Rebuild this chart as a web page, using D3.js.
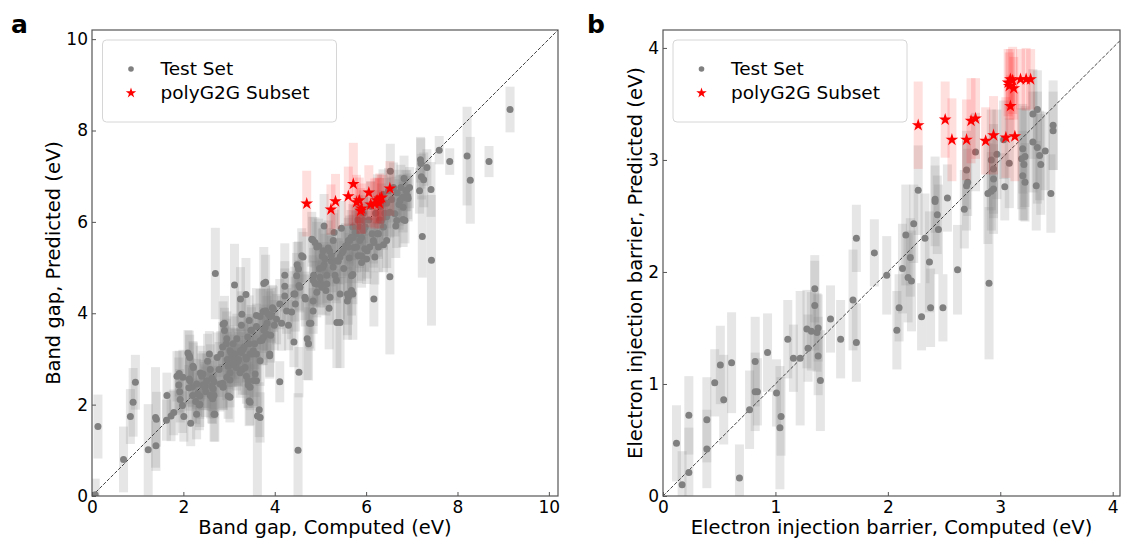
<!DOCTYPE html>
<html>
<head>
<meta charset="utf-8" />
<title>Parity plots: band gap and electron injection barrier</title>
<style>
  body { margin: 0; background: #fff; }
  svg text { font-family: "DejaVu Sans", sans-serif; fill: #000; }
  .tick text { font-size: 17px; }
  .axis-label { font-size: 19.5px; }
  .legend-text { font-size: 18.5px; }
  .panel-letter { font-size: 25px; font-weight: bold; }
</style>
</head>
<body>
<div id="chart"></div>
<script src="https://d3js.org/d3.v7.min.js"></script>
<script>
// each entry: [computed, predicted, uncertainty] in eV
const bandGapTest = [
  [0.07,0.03,0.35],[0.13,1.52,0.7],[0.69,0.80,0.72],[0.84,1.74,0.6],[0.90,2.05,0.75],[0.95,2.49,0.6],
  [1.23,1.01,1.0],[1.40,1.10,0.55],[1.39,1.72,1.1],[1.41,1.68,0.6],[1.64,2.20,0.5],[1.63,1.66,0.45],
  [1.73,1.75,0.55],[1.79,1.83,0.5],[1.86,2.62,0.55],[1.91,2.68,0.5],[1.90,2.43,0.6],[1.92,2.28,0.5],
  [1.98,1.98,0.6],[2.01,1.74,0.55],[1.93,2.11,0.5],
  [2.10,3.13,0.5],[2.13,3.07,0.55],[2.13,2.56,0.6],[2.16,1.59,0.5],[2.12,2.37,0.5],[2.21,2.84,0.55],
  [2.20,2.20,0.6],[2.27,2.07,0.5],[2.35,1.99,0.55],[2.31,2.24,0.5],[2.20,2.39,0.45],[2.37,2.69,0.6],
  [2.40,2.62,0.5],[2.43,2.43,0.55],[2.53,2.95,0.6],[2.57,3.11,0.5],[2.59,2.77,0.55],[2.63,2.58,0.5],
  [2.67,2.50,0.6],[2.65,2.35,0.5],[2.47,2.43,0.5],[2.49,2.28,0.55],[2.67,1.79,0.6],[2.70,4.87,1.0],
  [2.59,2.20,0.5],[2.64,2.13,0.55],[2.67,2.20,0.5],[2.74,3.03,0.55],[2.78,2.77,0.6],[2.82,3.11,0.5],
  [2.86,3.26,0.55],[2.90,3.78,0.6],[2.90,3.62,0.5],[2.94,3.33,0.55],[2.96,2.99,0.6],[2.98,2.84,0.5],
  [2.98,2.19,0.5],[2.86,2.47,0.55],[2.87,2.39,0.5],[3.02,2.54,0.6],[3.04,3.14,0.55],[3.06,2.88,0.5],
  [3.09,3.33,0.6],[3.13,3.11,0.55],[3.12,4.62,0.9],[3.17,3.44,0.55],[3.17,2.92,0.5],[3.21,2.99,0.6],
  [3.25,4.31,0.7],[3.25,3.18,0.5],[3.27,3.74,0.6],[3.29,2.77,0.55],[3.33,3.26,0.5],[3.37,4.41,0.8],
  [3.37,3.03,0.55],[3.38,2.62,0.6],[3.42,2.43,0.5],[3.44,2.08,0.55],[3.41,3.48,0.5],[3.44,3.33,0.6],
  [3.48,3.63,0.55],[3.52,3.11,0.5],[3.54,2.53,0.6],[3.56,3.33,0.55],[3.60,3.71,0.5],[3.62,1.75,1.8],
  [3.66,1.89,0.6],[3.68,3.93,0.6],[3.72,3.41,0.55],[3.76,4.65,0.8],[3.80,4.68,0.6],[3.76,3.63,0.5],
  [3.80,4.05,0.55],[3.83,3.78,0.6],[3.89,3.11,0.5],[3.90,3.93,0.55],[3.91,3.52,0.6],[3.95,4.12,0.5],
  [3.99,3.74,0.55],
  [3.28,3.98,0.5],[3.44,3.84,0.55],[3.49,3.63,0.5],[3.60,3.95,0.6],[3.75,4.04,0.5],[3.86,3.98,0.55],
  [3.79,3.69,0.5],[3.93,3.95,0.6],[3.97,4.09,0.5],[4.04,3.87,0.55],[2.87,3.76,0.5],[2.95,3.44,0.6],
  [3.02,3.18,0.55],[3.06,3.03,0.5],[3.13,3.07,0.6],[3.09,2.89,0.5],[3.20,2.96,0.55],[3.27,3.14,0.5],
  [3.31,3.22,0.6],[3.16,2.81,0.5],[3.24,2.70,0.55],[3.35,2.81,0.6],[3.38,3.00,0.5],[3.46,3.11,0.55],
  [3.53,3.18,0.5],[3.60,3.11,0.6],[3.68,2.96,0.55],[3.57,2.67,0.5],[3.42,2.52,0.6],[3.46,2.38,0.5],
  [3.60,2.52,0.55],[3.68,3.40,0.5],[3.75,3.47,0.6],[3.82,3.54,0.55],[3.89,3.07,0.5],[3.02,2.70,0.55],
  [2.95,2.60,0.5],[2.80,2.45,0.6],[2.87,2.38,0.5],[3.02,2.16,0.55],[2.69,1.79,0.6],[3.46,2.05,0.5],
  [3.68,1.72,0.55],
  [2.14,3.03,0.5],[2.22,2.81,0.55],[1.99,2.60,0.6],[2.14,2.52,0.5],[2.29,2.45,0.55],[2.43,2.67,0.5],
  [2.51,2.52,0.6],[2.47,2.38,0.5],[2.62,2.41,0.55],[2.36,2.19,0.5],[2.62,2.19,0.6],[2.36,2.01,0.5],
  [2.29,1.79,0.55],
  [4.11,4.20,0.55],[4.11,2.50,0.45],[4.15,3.78,0.6],[4.22,4.83,0.7],[4.22,4.59,0.55],[4.22,4.38,0.6],
  [4.26,4.05,0.5],[4.30,3.74,0.55],[4.37,4.03,0.6],[4.42,4.42,0.5],[4.42,3.37,0.55],[4.45,4.20,0.6],
  [4.53,2.71,0.55],[4.51,1.00,1.25],[4.59,5.26,0.6],[4.53,4.61,0.55],[4.49,5.06,0.5],[4.67,4.31,0.6],
  [4.71,3.44,0.9],[4.74,3.33,0.8],[4.76,3.78,0.55],[4.79,3.78,0.6],[4.84,4.05,0.5],[4.81,5.62,0.6],
  [4.88,5.55,0.55],[4.85,4.83,0.6],[4.88,4.65,0.5],[4.92,4.46,0.55],[4.96,5.47,0.6],[4.98,4.98,0.5],
  [5.00,4.67,0.55],[5.04,5.25,0.6],[5.08,5.91,0.7],[5.08,5.06,0.5],[5.12,4.50,0.55],[5.14,4.83,0.6],
  [5.19,4.11,0.9],[5.20,5.36,0.5],[5.24,5.14,0.55],[5.28,5.59,0.6],[5.30,5.77,0.5],[5.32,4.83,0.55],
  [5.36,3.80,1.0],[5.43,3.80,1.0],[5.39,5.14,0.5],[5.46,5.86,0.6],[5.47,5.32,0.55],[5.51,4.98,0.6],
  [5.55,5.47,0.5],[5.59,4.42,1.0],[5.59,4.27,0.75],[5.61,5.59,0.5],[5.63,5.21,0.55],[5.67,5.66,0.6],
  [5.71,4.85,0.65],[5.71,4.42,1.0],[5.71,5.89,0.5],[5.74,5.44,0.55],[5.78,5.74,0.5],[5.82,6.04,0.55],
  [5.86,5.59,0.6],[5.90,5.26,0.55],[5.94,6.19,0.5],[5.98,5.89,0.55],[6.02,5.36,0.6],
  [4.83,5.61,0.5],[4.92,5.45,0.55],[5.06,5.37,0.5],[5.17,5.43,0.6],[5.24,5.26,0.5],[5.10,5.19,0.55],
  [5.05,5.00,0.5],[4.99,4.79,0.6],[4.84,4.72,0.55],[4.92,4.64,0.5],[5.03,4.57,0.6],[5.14,4.64,0.5],
  [5.28,5.01,0.55],[5.35,5.15,0.5],[5.43,5.23,0.6],[5.50,5.37,0.55],[5.61,5.45,0.5],[5.64,5.59,0.55],
  [5.72,5.66,0.5],[5.76,5.77,0.6],[5.86,5.89,0.5],[5.94,6.03,0.55],[5.90,5.66,0.5],[5.79,5.45,0.55],
  [5.83,5.26,0.6],[5.97,5.41,0.5],[6.08,5.45,0.55],[6.16,5.59,0.5],[6.27,5.74,0.55],[6.38,5.89,0.5],
  [6.34,6.03,0.55],[6.45,6.11,0.5],[6.52,6.21,0.55],[6.63,6.18,0.5],[6.74,6.47,0.55],[6.81,6.54,0.5],
  [6.89,6.69,0.45],[6.92,6.51,0.5],[6.81,6.32,0.55],[6.67,6.03,0.6],[6.85,6.03,0.5],[6.45,5.59,0.6],
  [6.27,5.45,0.55],[6.19,5.23,0.6],[6.01,5.19,0.55],[5.94,5.81,0.5],[4.62,5.23,0.55],[4.52,4.97,0.6],
  [4.48,4.82,0.5],[4.55,4.57,0.55],[4.44,4.42,0.6],[4.66,4.35,0.5],[4.84,4.27,0.55],[5.21,4.35,0.6],
  [5.35,4.72,0.5],[5.43,4.42,0.55],[5.61,4.35,0.6],[5.68,4.50,0.55],[5.68,4.82,0.5],[5.90,5.11,0.55],
  [6.06,6.04,0.5],[6.10,6.34,0.55],[6.13,5.74,0.5],[6.17,4.31,0.6],[6.17,5.55,0.55],[6.21,6.19,0.5],
  [6.25,6.49,0.55],[6.25,5.74,0.5],[6.29,6.04,0.55],[6.33,6.34,0.5],[6.37,6.60,0.55],[6.38,5.50,0.6],
  [6.41,6.19,0.5],[6.45,6.41,0.55],[6.49,6.68,0.5],[6.52,4.80,1.7],[6.53,7.11,0.6],[6.56,6.49,0.5],
  [6.60,6.75,0.55],[6.65,5.91,0.7],[6.68,6.64,0.5],[6.72,6.38,0.55],[6.76,6.75,0.5],[6.80,6.53,0.5],
  [6.81,6.05,0.6],[6.83,6.95,0.5],[6.87,6.68,0.45],[6.91,6.56,0.5],[6.95,6.75,0.45],
  [7.19,7.36,0.5],[7.20,7.28,0.55],[7.33,7.19,0.4],[7.21,6.99,0.5],[7.26,6.92,0.6],[7.17,6.68,0.5],
  [7.42,6.71,0.6],[7.23,5.68,0.9],[7.43,5.16,1.43],[7.60,7.57,0.31],[7.83,7.32,0.29],[8.21,7.44,1.08],
  [8.28,6.91,0.95],[8.69,7.32,0.34],[9.15,8.46,0.5]
];
const bandGapG2G = [
  [4.70,6.40,0.72],[5.23,6.27,0.55],[5.33,6.45,0.6],[5.61,6.56,0.65],[5.72,6.83,0.9],[5.79,6.43,0.6],
  [5.85,6.47,0.5],[5.90,6.29,0.55],[5.88,6.24,0.5],[6.06,6.64,0.6],[6.10,6.38,0.5],[6.19,6.40,0.55],
  [6.24,6.47,0.5],[6.30,6.51,0.55],[6.34,6.53,0.5],[6.29,6.41,0.55],[6.52,6.73,0.6]
];
const barrierTest = [
  [0.12,0.47,0.34],[0.17,0.10,0.3],[0.23,0.72,0.35],[0.23,0.21,0.4],[0.39,0.68,0.38],[0.39,0.42,0.35],
  [0.46,1.01,0.3],[0.51,1.17,0.35],[0.54,0.86,0.4],[0.61,1.19,0.45],[0.68,0.16,0.3],[0.77,0.77,0.35],
  [0.82,1.20,0.4],[0.82,0.93,0.35],[0.84,0.93,0.3],[0.93,1.28,0.35],[1.01,0.92,0.3],[1.05,0.71,0.35],
  [1.04,0.61,0.55],[1.11,1.40,0.35],[1.16,1.23,0.3],[1.22,1.23,0.6],[1.28,1.49,0.35],[1.29,1.32,0.3],
  [1.32,1.47,0.35],[1.35,1.85,0.3],[1.35,1.70,0.4],[1.37,1.46,0.35],[1.38,1.50,0.3],[1.38,1.25,0.35],
  [1.40,1.03,0.45],[1.49,1.58,0.3],[1.58,1.40,0.35],[1.69,1.75,0.45],[1.72,2.30,0.3],[1.72,1.37,0.35],
  [1.88,2.17,0.3],[1.99,1.97,0.35],[2.08,1.48,0.35],[2.10,1.68,0.3],[2.13,2.03,0.4],[2.16,2.33,0.45],
  [2.20,2.13,0.35],[2.18,1.95,0.4],[2.21,1.92,0.45],[2.23,2.43,0.35],[2.27,2.73,0.4],[2.30,1.60,0.3],
  [2.33,2.30,0.4],[2.37,2.09,0.45],[2.38,1.68,0.35],[2.42,2.63,0.4],[2.42,2.65,0.3],[2.44,2.51,0.35],
  [2.45,2.38,0.4],[2.49,1.68,0.3],[2.53,2.66,0.3],[2.62,2.02,0.4],[2.68,2.56,0.35],[2.70,2.77,0.4],
  [2.70,2.91,0.35],[2.71,2.80,0.3],[2.78,3.07,0.35],[2.89,2.70,0.45],[2.92,2.72,0.35],[2.94,2.74,0.4],
  [2.90,1.90,0.68],[2.92,3.00,0.45],[2.94,2.92,0.4],[2.94,2.83,0.35],[2.97,3.05,0.4],[3.03,3.18,0.35],
  [3.04,2.76,0.3],[3.08,2.97,0.4],[3.19,3.01,0.45],[3.20,3.10,0.4],[3.21,2.96,0.5],[3.22,3.03,0.45],
  [3.20,2.86,0.4],[3.22,2.80,0.35],[3.29,3.41,0.4],[3.33,3.45,0.35],[3.29,3.16,0.45],[3.33,3.11,0.5],
  [3.35,3.04,0.4],[3.36,2.96,0.45],[3.32,2.77,0.4],[3.40,3.08,0.35],[3.45,2.70,0.35],[3.47,3.31,0.4],
  [3.47,3.26,0.35]
];
const barrierG2G = [
  [2.27,3.31,0.39],[2.51,3.36,0.34],[2.57,3.18,0.37],[2.70,3.18,0.36],[2.74,3.35,0.38],[2.78,3.37,0.36],
  [2.87,3.17,0.3],[2.94,3.22,0.35],[3.05,3.20,0.36],[3.13,3.21,0.4],[3.09,3.48,0.28],[3.07,3.69,0.3],
  [3.09,3.72,0.27],[3.08,3.66,0.3],[3.12,3.64,0.28],[3.11,3.71,0.3],[3.18,3.72,0.27],[3.23,3.72,0.28],
  [3.27,3.72,0.27]
];
const bandGapTicks = [0, 2, 4, 6, 8, 10];
const barrierTicks = [0, 1, 2, 3, 4];
const legendLabels = ["Test Set", "polyG2G Subset"];

const svg = d3.select("#chart").append("svg")
  .attr("width", 1121).attr("height", 540);

const star = d3.symbol().type(d3.symbolStar);

function drawPanel(p) {
  const x = d3.scaleLinear().domain(p.xDomain).range([p.left, p.right]);
  const y = d3.scaleLinear().domain(p.yDomain).range([p.bottom, p.top]);
  const g = svg.append("g");

  g.append("clipPath").attr("id", "clip-" + p.id)
    .append("rect")
    .attr("x", p.left).attr("y", p.top)
    .attr("width", p.right - p.left).attr("height", p.bottom - p.top);

  const plot = g.append("g").attr("clip-path", "url(#clip-" + p.id + ")");
  const barW = 9;

  // grey uncertainty bars
  plot.selectAll("rect.gbar").data(p.test).enter().append("rect")
    .attr("class", "gbar")
    .attr("x", d => x(d[0]) - barW / 2)
    .attr("y", d => y(d[1] + d[2]))
    .attr("width", barW)
    .attr("height", d => y(d[1] - d[2]) - y(d[1] + d[2]))
    .attr("fill", "gray").attr("fill-opacity", 0.2);

  // parity line
  const lim = Math.min(p.xDomain[1], p.yDomain[1]);
  plot.append("line")
    .attr("x1", x(0)).attr("y1", y(0))
    .attr("x2", x(lim)).attr("y2", y(lim))
    .attr("stroke", "#444").attr("stroke-width", 1)
    .attr("stroke-dasharray", "3.7,1.6");

  plot.selectAll("circle").data(p.test).enter().append("circle")
    .attr("cx", d => x(d[0])).attr("cy", d => y(d[1]))
    .attr("r", 3.5).attr("fill", "gray");

  // red uncertainty bars + stars
  plot.selectAll("rect.rbar").data(p.subset).enter().append("rect")
    .attr("class", "rbar")
    .attr("x", d => x(d[0]) - barW / 2)
    .attr("y", d => y(d[1] + d[2]))
    .attr("width", barW)
    .attr("height", d => y(d[1] - d[2]) - y(d[1] + d[2]))
    .attr("fill", "red").attr("fill-opacity", 0.13);

  plot.selectAll("path.star").data(p.subset).enter().append("path")
    .attr("class", "star")
    .attr("d", star.size(50)())
    .attr("transform", d => "translate(" + x(d[0]) + "," + y(d[1]) + ")")
    .attr("fill", "red");

  // axes, ticks pointing inward
  const xAxis = g.append("g").attr("transform", "translate(0," + p.bottom + ")")
    .call(d3.axisBottom(x).tickValues(p.ticks).tickFormat(d3.format("d"))
      .tickSizeInner(-4).tickSizeOuter(0).tickPadding(5));
  const yAxis = g.append("g").attr("transform", "translate(" + p.left + ",0)")
    .call(d3.axisLeft(y).tickValues(p.ticks).tickFormat(d3.format("d"))
      .tickSizeInner(-4).tickSizeOuter(0).tickPadding(4));
  [xAxis, yAxis].forEach(a => {
    a.select(".domain").remove();
    a.selectAll(".tick line").attr("stroke", "#555");
    a.selectAll(".tick text").attr("font-family", null).attr("font-size", null);
  });

  g.append("rect")
    .attr("x", p.left).attr("y", p.top)
    .attr("width", p.right - p.left).attr("height", p.bottom - p.top)
    .attr("fill", "none").attr("stroke", "#555").attr("stroke-width", 1.2);

  // legend
  const lg = g.append("g").attr("transform", "translate(" + p.legendX + ",40)");
  lg.append("rect").attr("width", 234).attr("height", 82).attr("rx", 4)
    .attr("fill", "#fff").attr("fill-opacity", 0.8)
    .attr("stroke", "#d6d6d6").attr("stroke-width", 1);
  lg.append("circle").attr("cx", 28.5).attr("cy", 29).attr("r", 2.8).attr("fill", "gray");
  lg.append("path").attr("d", star.size(34)())
    .attr("transform", "translate(28.5,53)").attr("fill", "red");
  lg.selectAll("text").data(legendLabels).enter().append("text")
    .attr("class", "legend-text")
    .attr("x", 58).attr("y", (d, i) => 29 + i * 24)
    .attr("dy", "0.35em")
    .text(d => d);

  g.append("text").attr("class", "axis-label")
    .attr("x", (p.left + p.right) / 2).attr("y", 534)
    .attr("text-anchor", "middle").text(p.xLabel);
  g.append("text").attr("class", "axis-label")
    .attr("transform", "translate(" + p.yLabelX + "," + (p.top + p.bottom) / 2 + ") rotate(-90)")
    .attr("text-anchor", "middle").attr("dy", "0.35em").text(p.yLabel);

  g.append("text").attr("class", "panel-letter")
    .attr("x", p.letterX).attr("y", 33).text(p.letter);
}

drawPanel({
  id: "a", letter: "a", letterX: 11,
  left: 92, right: 558, top: 30, bottom: 496,
  xDomain: [0, 10.2], yDomain: [0, 10.2], ticks: bandGapTicks,
  test: bandGapTest, subset: bandGapG2G, legendX: 102.5,
  xLabel: "Band gap, Computed (eV)", yLabel: "Band gap, Predicted (eV)", yLabelX: 53
});

drawPanel({
  id: "b", letter: "b", letterX: 587,
  left: 663, right: 1120, top: 30, bottom: 496,
  xDomain: [0, 4.065], yDomain: [0, 4.16], ticks: barrierTicks,
  test: barrierTest, subset: barrierG2G, legendX: 673,
  xLabel: "Electron injection barrier, Computed (eV)",
  yLabel: "Electron injection barrier, Predicted (eV)", yLabelX: 635
});
</script>
</body>
</html>
